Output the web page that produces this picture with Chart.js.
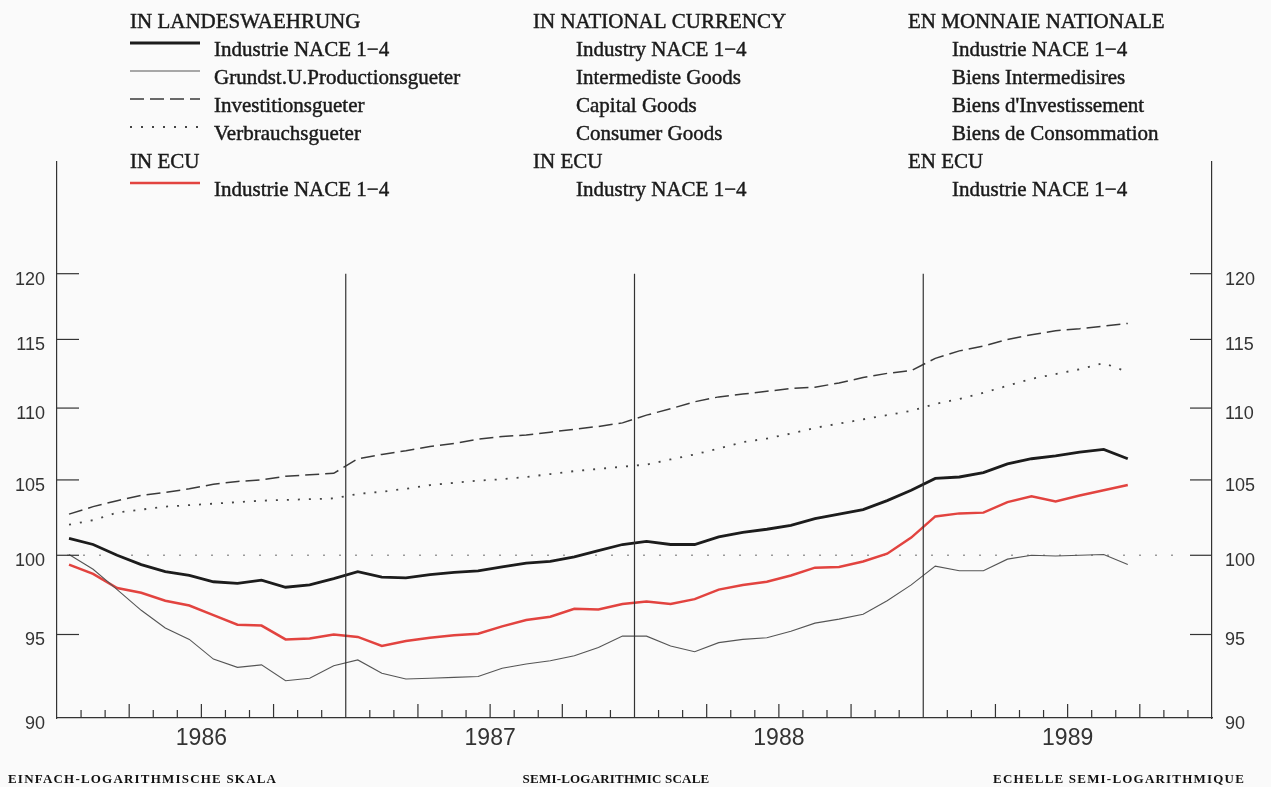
<!DOCTYPE html>
<html>
<head>
<meta charset="utf-8">
<title>Industrieproduktion 1986-1989</title>
<script src="https://cdn.jsdelivr.net/npm/chart.js@4.4.1/dist/chart.umd.min.js"></script>
<style>
  html, body { margin: 0; padding: 0; background: #fafafa; }
  #wrap { position: relative; width: 1271px; height: 787px; }
</style>
</head>
<body>
<div id="wrap"><canvas id="chart" width="1271" height="787"></canvas></div>
<script>
// monthly index values, Jan 1986 .. Sep 1989
const YEARS = ["1986", "1987", "1988", "1989"];
const Y_TICKS = [90, 95, 100, 105, 110, 115, 120];
const REF_LEVEL = 100;

const industry = [101.1, 100.7, 100.0, 99.4, 98.95, 98.7, 98.3, 98.2, 98.4, 97.95, 98.1, 98.5,
  98.95, 98.6, 98.55, 98.75, 98.9, 99.0, 99.25, 99.5, 99.6, 99.9, 100.3, 100.7,
  100.9, 100.7, 100.7, 101.2, 101.5, 101.7, 101.95, 102.4, 102.7, 103.0, 103.6, 104.3,
  105.1, 105.2, 105.5, 106.1, 106.45, 106.65, 106.9, 107.1, 106.45];
const intermediate = [100.05, 99.1, 97.8, 96.5, 95.4, 94.7, 93.5, 93.0, 93.15, 92.2, 92.35, 93.1,
  93.45, 92.65, 92.3, 92.35, 92.4, 92.45, 92.95, 93.2, 93.4, 93.7, 94.2, 94.9,
  94.9, 94.3, 93.95, 94.5, 94.7, 94.8, 95.2, 95.7, 95.95, 96.25, 97.1, 98.1,
  99.3, 99.0, 99.0, 99.75, 100.0, 99.95, 100.0, 100.05, 99.4];
const capital = [102.7, 103.2, 103.6, 103.95, 104.15, 104.4, 104.7, 104.9, 105.0, 105.25, 105.35, 105.45,
  106.45, 106.75, 107.0, 107.3, 107.5, 107.8, 108.0, 108.1, 108.3, 108.5, 108.7, 108.95,
  109.5, 109.95, 110.45, 110.8, 111.0, 111.2, 111.4, 111.5, 111.8, 112.2, 112.5, 112.7,
  113.6, 114.15, 114.5, 115.0, 115.35, 115.65, 115.8, 116.0, 116.2];
const consumer = [102.0, 102.3, 102.8, 103.0, 103.2, 103.3, 103.4, 103.5, 103.6, 103.65, 103.7, 103.75,
  104.05, 104.2, 104.4, 104.65, 104.8, 104.95, 105.05, 105.2, 105.4, 105.6, 105.75, 105.9,
  106.05, 106.4, 106.75, 107.15, 107.6, 107.85, 108.2, 108.6, 108.9, 109.2, 109.5, 109.8,
  110.3, 110.65, 111.1, 111.6, 112.1, 112.45, 112.8, 113.25, 112.6];
const industryEcu = [99.4, 98.8, 97.9, 97.6, 97.1, 96.8, 96.2, 95.6, 95.55, 94.7, 94.75, 95.0,
  94.85, 94.3, 94.6, 94.8, 94.95, 95.05, 95.5, 95.9, 96.1, 96.6, 96.55, 96.9,
  97.05, 96.9, 97.2, 97.8, 98.1, 98.3, 98.7, 99.2, 99.25, 99.6, 100.1, 101.15,
  102.55, 102.75, 102.8, 103.5, 103.9, 103.55, 103.95, 104.3, 104.65];

const HEADERS = [["IN LANDESWAEHRUNG", "IN NATIONAL CURRENCY", "EN MONNAIE NATIONALE"],
                 ["IN ECU", "IN ECU", "EN ECU"]];
const NAMES_DE = ["Industrie NACE 1\u22124", "Grundst.U.Productionsgueter", "Investitionsgueter", "Verbrauchsgueter", "Industrie NACE 1\u22124"];
const NAMES_EN = ["Industry NACE 1\u22124", "Intermediste Goods", "Capital Goods", "Consumer Goods", "Industry NACE 1\u22124"];
const NAMES_FR = ["Industrie NACE 1\u22124", "Biens Intermedisires", "Biens d'Investissement", "Biens de Consommation", "Industrie NACE 1\u22124"];
const FOOTER = ["EINFACH-LOGARITHMISCHE SKALA", "SEMI-LOGARITHMIC SCALE", "ECHELLE SEMI-LOGARITHMIQUE"];

const INK = "#1a1a1a";
const styles = [
  { color: "#1c1c1c", width: 2.8, dash: [] },
  { color: "#555555", width: 1.1, dash: [] },
  { color: "#3a3a3a", width: 1.5, dash: [14, 6] },
  { color: "#444444", width: 1.8, dash: [2, 9] },
  { color: "#e2433f", width: 2.5, dash: [] }
];
const series = [industry, intermediate, capital, consumer, industryEcu];

// points sit in the middle of each month
const toPoints = vals => vals.map((v, i) => ({ x: i + 0.5, y: v }));

const datasets = series.map((vals, i) => ({
  label: NAMES_DE[i],
  data: toPoints(vals),
  borderColor: styles[i].color,
  borderWidth: styles[i].width,
  borderDash: styles[i].dash,
  pointRadius: 0,
  tension: 0,
  fill: false
}));

function line(ctx, x1, y1, x2, y2) {
  ctx.beginPath();
  ctx.moveTo(x1, y1);
  ctx.lineTo(x2, y2);
  ctx.stroke();
}

function text(ctx, s, x, y) {
  ctx.fillText(s, x, y);
  ctx.strokeText(s, x, y);
}

const decor = {
  id: "decor",
  beforeDatasetsDraw(chart) {
    const { ctx, chartArea: a, scales: { y } } = chart;
    ctx.save();
    ctx.strokeStyle = "#9a9a9a";
    ctx.lineWidth = 1.6;
    ctx.setLineDash([2, 14]);
    const yr = y.getPixelForValue(REF_LEVEL);
    line(ctx, a.left + 10, yr, a.right - 30, yr);
    ctx.restore();
  },
  afterDatasetsDraw(chart) {
    const { ctx, chartArea: a, scales: { x, y } } = chart;
    ctx.save();
    ctx.strokeStyle = "#333";
    ctx.lineWidth = 1.2;
    // inward value ticks on both sides
    Y_TICKS.forEach(v => {
      if (v === Y_TICKS[0]) return;
      const py = y.getPixelForValue(v);
      line(ctx, a.left, py, a.left + 22, py);
      line(ctx, a.right - 22, py, a.right, py);
    });
    // month ticks and year dividers
    const top = y.getPixelForValue(Y_TICKS[Y_TICKS.length - 1]);
    for (let m = 1; m < YEARS.length * 12; m++) {
      const px = x.getPixelForValue(m);
      if (m % 12 === 0) line(ctx, px, top, px, a.bottom);
      else line(ctx, px, a.bottom, px, a.bottom - (m % 3 === 0 ? 14 : 8));
    }
    ctx.restore();
  },
  afterDraw(chart) {
    const ctx = chart.ctx;
    ctx.save();
    ctx.fillStyle = INK;
    ctx.strokeStyle = INK;
    ctx.lineWidth = 0.45;
    ctx.font = "21px 'Liberation Serif'";
    ctx.textBaseline = "alphabetic";
    const cols = [{ h: 130, t: 214, names: NAMES_DE }, { h: 533, t: 576, names: NAMES_EN }, { h: 908, t: 952, names: NAMES_FR }];
    const rows = [56, 84, 112, 140, 196];
    cols.forEach((c, ci) => {
      text(ctx, HEADERS[0][ci], c.h, 28);
      text(ctx, HEADERS[1][ci], c.h, 168);
      c.names.forEach((n, i) => text(ctx, n, c.t, rows[i]));
    });
    rows.forEach((r, i) => {
      ctx.strokeStyle = styles[i].color;
      ctx.lineWidth = styles[i].width;
      ctx.setLineDash(styles[i].dash);
      line(ctx, 130, r - 13, 200, r - 13);
    });
    ctx.setLineDash([]);
    ctx.fillStyle = "#111";
    ctx.font = "bold 13px 'Liberation Serif'";
    ctx.letterSpacing = "1.2px";
    ctx.textAlign = "left";
    ctx.fillText(FOOTER[0], 8, 783);
    ctx.textAlign = "right";
    ctx.fillText(FOOTER[2], 1245, 783);
    ctx.letterSpacing = "0.2px";
    ctx.textAlign = "center";
    ctx.fillText(FOOTER[1], 616, 783);
    ctx.restore();
  }
};

const yAxis = (pos, width, pad) => ({
  type: "logarithmic",
  position: pos,
  min: 90,
  max: 129,
  afterBuildTicks: s => { s.ticks = Y_TICKS.map(v => ({ value: v })); },
  afterFit: s => { s.width = width; },
  grid: { display: false, drawTicks: false },
  border: { display: true, color: "#333", width: 1.2 },
  ticks: {
    padding: pad,
    labelOffset: 6,
    color: "#333",
    font: { family: "'Liberation Sans'", size: 18 },
    callback: v => String(v)
  }
});

new Chart(document.getElementById("chart"), {
  type: "line",
  data: { datasets },
  options: {
    responsive: false,
    animation: false,
    layout: { padding: { top: 162, left: 0, right: 0, bottom: 0 } },
    plugins: { legend: { display: false }, tooltip: { enabled: false } },
    scales: {
      x: {
        type: "linear",
        min: 0,
        max: YEARS.length * 12,
        afterBuildTicks: s => { s.ticks = YEARS.map((_, i) => ({ value: i * 12 + 6 })); },
        afterFit: s => { s.height = 69; },
        grid: { display: false, drawTicks: false },
        border: { display: true, color: "#333", width: 1.2 },
        ticks: {
          padding: 7,
          maxRotation: 0,
          color: "#333",
          font: { family: "'Liberation Sans'", size: 23 },
          callback: v => YEARS[Math.floor(v / 12)]
        }
      },
      y: yAxis("left", 57, 12),
      y2: yAxis("right", 59, 13)
    }
  },
  plugins: [decor]
});
</script>
</body>
</html>
